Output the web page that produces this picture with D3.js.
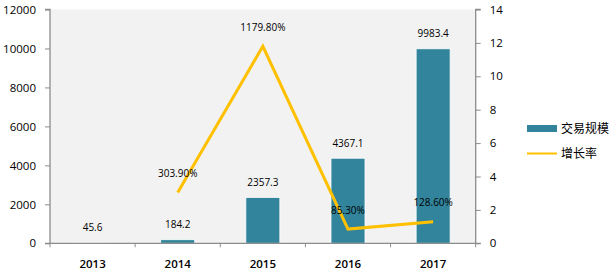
<!DOCTYPE html>
<html><head><meta charset="utf-8">
<script src="https://cdn.jsdelivr.net/npm/d3@7"></script>
<style>
body{margin:0;background:#fff;}
svg{display:block;font-family:"Open Sans","Liberation Sans",Arial,sans-serif;}
</style></head>
<body><svg id="c" width="612" height="273"></svg>
<script>
const categories = ["2013","2014","2015","2016","2017"];
const volume = [45.6, 184.2, 2357.3, 4367.1, 9983.4];
const volumeLabels = ["45.6","184.2","2357.3","4367.1","9983.4"];
const growthYears = ["2014","2015","2016","2017"];
const growth = [3.039, 11.798, 0.853, 1.286];
const growthLabels = ["303.90%","1179.80%","85.30%","128.60%"];
const leftTicks = [0,2000,4000,6000,8000,10000,12000];
const rightTicks = [0,2,4,6,8,10,12,14];
const seriesNames = ["交易规模","增长率"];

const svg = d3.select("#c");
const L = 50, R = 475.7, T = 9.5, B = 243.3;
const x = d3.scaleBand().domain(categories).range([L, R]).paddingInner(0).paddingOuter(0);
const yL = d3.scaleLinear().domain([0,12000]).range([B, T]);
const yR = d3.scaleLinear().domain([0,14]).range([B, T]);
const axisColor = "#8c8c8c";
const barColor = "#31849b";
const lineColor = "#ffc000";

svg.append("rect").attr("x",L).attr("y",T).attr("width",R-L).attr("height",B-T).attr("fill","#f2f2f2");

// bars
const bw = 34;
svg.selectAll("rect.bar").data(volume).enter().append("rect")
  .attr("class","bar")
  .attr("x",(d,i)=>x(categories[i])+x.bandwidth()/2-bw/2)
  .attr("y",d=>yL(d))
  .attr("width",bw)
  .attr("height",d=>B-yL(d))
  .attr("fill",barColor).attr("stroke","#ffffff").attr("stroke-width",0.8);

svg.selectAll("text.bl").data(volume).enter().append("text")
  .attr("x",(d,i)=>x(categories[i])+x.bandwidth()/2)
  .attr("y",d=>yL(d)-15)
  .attr("dy","0.35em")
  .attr("text-anchor","middle").attr("font-size","10px").attr("fill","#000")
  .text((d,i)=>volumeLabels[i]);

// line
const line = d3.line().x((d,i)=>x(growthYears[i])+x.bandwidth()/2).y(d=>yR(d));
svg.append("path").datum(growth).attr("d",line).attr("fill","none")
  .attr("stroke",lineColor).attr("stroke-width",3).attr("stroke-linejoin","miter");

svg.selectAll("text.gl").data(growth).enter().append("text")
  .attr("x",(d,i)=>x(growthYears[i])+x.bandwidth()/2)
  .attr("y",d=>yR(d)-19)
  .attr("dy","0.35em")
  .attr("text-anchor","middle").attr("font-size","10px").attr("fill","#000")
  .text((d,i)=>growthLabels[i]);

// axes
const ax = svg.append("g").attr("transform",`translate(${L},0)`)
  .call(d3.axisLeft(yL).tickValues(leftTicks).tickSize(5).tickPadding(9).tickFormat(d3.format("d")));
const ar = svg.append("g").attr("transform",`translate(${R},0)`)
  .call(d3.axisRight(yR).tickValues(rightTicks).tickSize(5).tickPadding(9).tickFormat(d3.format("d")));
const xb = svg.append("g").attr("transform",`translate(0,${B})`)
  .call(d3.axisBottom(x).tickSize(0).tickPadding(17));
// x ticks at band boundaries
const bounds = categories.map(c=>x(c)).concat([R]);
svg.selectAll("line.xt").data(bounds).enter().append("line")
  .attr("x1",d=>d).attr("x2",d=>d).attr("y1",B).attr("y2",B+4)
  .attr("stroke",axisColor).attr("stroke-width",1);

[ax,ar,xb].forEach(g=>{
  g.select(".domain").attr("stroke",axisColor).attr("stroke-width",1.3);
  g.selectAll(".tick line").attr("stroke",axisColor);
  g.selectAll(".tick text").attr("fill","#000").attr("font-size","11.5px").attr("font-weight",500)
   .attr("font-family","'Open Sans','Liberation Sans',Arial,sans-serif");
});
xb.selectAll(".tick text").attr("font-weight",600);
ax.select(".domain").attr("d",`M-5,${T}H0V${B}H-5`);
ar.select(".domain").attr("d",`M5,${T}H0V${B}H5`);
xb.select(".domain").attr("d",`M${L},0H${R}`);

// legend
const lg = svg.append("g");
lg.append("rect").attr("x",527).attr("y",125).attr("width",30).attr("height",7).attr("fill",barColor);
lg.append("line").attr("x1",527).attr("x2",557).attr("y1",153.5).attr("y2",153.5).attr("stroke",lineColor).attr("stroke-width",2);
lg.selectAll("text").data(seriesNames).enter().append("text")
  .attr("x",561).attr("y",(d,i)=>i===0?128.5:153.5).attr("dy","0.35em")
  .attr("font-size","12px").attr("fill","#000")
  .attr("font-family","'Noto Sans CJK SC',sans-serif")
  .text(d=>d);
</script></body></html>
